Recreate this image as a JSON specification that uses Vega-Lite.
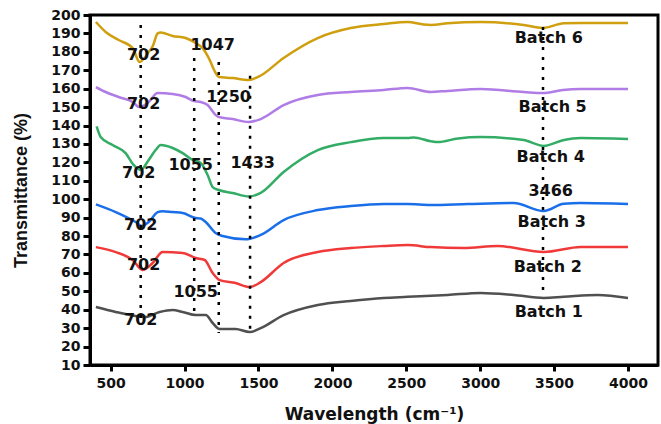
{
  "$schema": "https://vega.github.io/schema/vega-lite/v6.json",
  "autosize": {"type": "none"},
  "padding": {"left": 90, "top": 15, "right": 3, "bottom": 59},
  "width": 568,
  "height": 350,
  "background": "white",
  "view": {"stroke": "black", "strokeWidth": 3},
  "config": {
    "view": {"stroke": "black", "strokeWidth": 3},
    "axis": {
      "grid": false,
      "domainColor": "black",
      "domainWidth": 3,
      "tickColor": "black",
      "tickWidth": 3,
      "labelFont": "DejaVu Sans",
      "labelFontWeight": "bold",
      "labelFontSize": 14,
      "labelColor": "#111",
      "titleColor": "#111",
      "labelOverlap": false
    }
  },
  "datasets": {
    "spectra": [
      {"series": "Batch 6", "x": 400, "y": 196.2}, {"series": "Batch 6", "x": 466, "y": 190.8}, {"series": "Batch 6", "x": 554, "y": 186.4}, {"series": "Batch 6", "x": 649, "y": 182}, {"series": "Batch 6", "x": 695, "y": 174.5}, {"series": "Batch 6", "x": 757, "y": 179.9}, {"series": "Batch 6", "x": 784, "y": 183}, {"series": "Batch 6", "x": 818, "y": 190}, {"series": "Batch 6", "x": 838, "y": 190.5}, {"series": "Batch 6", "x": 919, "y": 188.6}, {"series": "Batch 6", "x": 1007, "y": 187.5}, {"series": "Batch 6", "x": 1075, "y": 184.8}, {"series": "Batch 6", "x": 1122, "y": 182}, {"series": "Batch 6", "x": 1163, "y": 176.7}, {"series": "Batch 6", "x": 1210, "y": 168.5}, {"series": "Batch 6", "x": 1231, "y": 166.3}, {"series": "Batch 6", "x": 1325, "y": 165.8}, {"series": "Batch 6", "x": 1434, "y": 164.7}, {"series": "Batch 6", "x": 1501, "y": 166.5}, {"series": "Batch 6", "x": 1670, "y": 176.7}, {"series": "Batch 6", "x": 1901, "y": 187.5}, {"series": "Batch 6", "x": 2124, "y": 192.9}, {"series": "Batch 6", "x": 2347, "y": 195.1}, {"series": "Batch 6", "x": 2509, "y": 196.2}, {"series": "Batch 6", "x": 2618, "y": 194.8}, {"series": "Batch 6", "x": 2665, "y": 194.6}, {"series": "Batch 6", "x": 2780, "y": 195.5}, {"series": "Batch 6", "x": 3003, "y": 196.2}, {"series": "Batch 6", "x": 3294, "y": 194.6}, {"series": "Batch 6", "x": 3423, "y": 193}, {"series": "Batch 6", "x": 3565, "y": 195.5}, {"series": "Batch 6", "x": 3680, "y": 195.7}, {"series": "Batch 6", "x": 4000, "y": 195.7},
      {"series": "Batch 5", "x": 400, "y": 160.9}, {"series": "Batch 5", "x": 466, "y": 158.2}, {"series": "Batch 5", "x": 554, "y": 155.5}, {"series": "Batch 5", "x": 649, "y": 152.8}, {"series": "Batch 5", "x": 695, "y": 150}, {"series": "Batch 5", "x": 757, "y": 152.8}, {"series": "Batch 5", "x": 818, "y": 157.6}, {"series": "Batch 5", "x": 919, "y": 157.1}, {"series": "Batch 5", "x": 1007, "y": 155.5}, {"series": "Batch 5", "x": 1062, "y": 153.3}, {"series": "Batch 5", "x": 1109, "y": 152.8}, {"series": "Batch 5", "x": 1156, "y": 151.1}, {"series": "Batch 5", "x": 1210, "y": 145.7}, {"series": "Batch 5", "x": 1231, "y": 144.6}, {"series": "Batch 5", "x": 1325, "y": 143.5}, {"series": "Batch 5", "x": 1434, "y": 141.9}, {"series": "Batch 5", "x": 1515, "y": 143.5}, {"series": "Batch 5", "x": 1670, "y": 151.1}, {"series": "Batch 5", "x": 1901, "y": 156.6}, {"series": "Batch 5", "x": 2124, "y": 158.2}, {"series": "Batch 5", "x": 2347, "y": 159.3}, {"series": "Batch 5", "x": 2509, "y": 160.4}, {"series": "Batch 5", "x": 2665, "y": 158.2}, {"series": "Batch 5", "x": 2780, "y": 158.8}, {"series": "Batch 5", "x": 3003, "y": 159.8}, {"series": "Batch 5", "x": 3294, "y": 158.2}, {"series": "Batch 5", "x": 3423, "y": 157.6}, {"series": "Batch 5", "x": 3560, "y": 159.3}, {"series": "Batch 5", "x": 3680, "y": 159.8}, {"series": "Batch 5", "x": 4000, "y": 159.8},
      {"series": "Batch 4", "x": 405, "y": 139.5}, {"series": "Batch 4", "x": 432, "y": 133.8}, {"series": "Batch 4", "x": 513, "y": 129.4}, {"series": "Batch 4", "x": 601, "y": 125}, {"series": "Batch 4", "x": 655, "y": 118.6}, {"series": "Batch 4", "x": 703, "y": 115.9}, {"series": "Batch 4", "x": 757, "y": 121.3}, {"series": "Batch 4", "x": 804, "y": 126.7}, {"series": "Batch 4", "x": 838, "y": 129.4}, {"series": "Batch 4", "x": 919, "y": 127.8}, {"series": "Batch 4", "x": 987, "y": 125}, {"series": "Batch 4", "x": 1055, "y": 121.3}, {"series": "Batch 4", "x": 1109, "y": 119.7}, {"series": "Batch 4", "x": 1156, "y": 113.1}, {"series": "Batch 4", "x": 1190, "y": 106.6}, {"series": "Batch 4", "x": 1231, "y": 105}, {"series": "Batch 4", "x": 1325, "y": 103.4}, {"series": "Batch 4", "x": 1434, "y": 101.5}, {"series": "Batch 4", "x": 1515, "y": 103.4}, {"series": "Batch 4", "x": 1670, "y": 114.8}, {"series": "Batch 4", "x": 1901, "y": 126.7}, {"series": "Batch 4", "x": 2124, "y": 131}, {"series": "Batch 4", "x": 2347, "y": 133.2}, {"series": "Batch 4", "x": 2509, "y": 133.2}, {"series": "Batch 4", "x": 2550, "y": 133.5}, {"series": "Batch 4", "x": 2665, "y": 131.5}, {"series": "Batch 4", "x": 2713, "y": 131}, {"series": "Batch 4", "x": 2850, "y": 133}, {"series": "Batch 4", "x": 3003, "y": 133.8}, {"series": "Batch 4", "x": 3294, "y": 132.1}, {"series": "Batch 4", "x": 3430, "y": 128.9}, {"series": "Batch 4", "x": 3560, "y": 132}, {"series": "Batch 4", "x": 3680, "y": 133.2}, {"series": "Batch 4", "x": 4000, "y": 132.7},
      {"series": "Batch 3", "x": 400, "y": 97.2}, {"series": "Batch 3", "x": 534, "y": 93}, {"series": "Batch 3", "x": 669, "y": 87.6}, {"series": "Batch 3", "x": 710, "y": 85.5}, {"series": "Batch 3", "x": 757, "y": 87.6}, {"series": "Batch 3", "x": 818, "y": 93}, {"series": "Batch 3", "x": 851, "y": 93.5}, {"series": "Batch 3", "x": 919, "y": 93}, {"series": "Batch 3", "x": 987, "y": 92.5}, {"series": "Batch 3", "x": 1075, "y": 89.8}, {"series": "Batch 3", "x": 1109, "y": 89.5}, {"series": "Batch 3", "x": 1143, "y": 87.6}, {"series": "Batch 3", "x": 1210, "y": 81.6}, {"series": "Batch 3", "x": 1257, "y": 80}, {"series": "Batch 3", "x": 1413, "y": 78.2}, {"series": "Batch 3", "x": 1515, "y": 80.6}, {"series": "Batch 3", "x": 1670, "y": 88.7}, {"series": "Batch 3", "x": 1901, "y": 94.1}, {"series": "Batch 3", "x": 2124, "y": 96.3}, {"series": "Batch 3", "x": 2347, "y": 97.4}, {"series": "Batch 3", "x": 2509, "y": 97.4}, {"series": "Batch 3", "x": 2665, "y": 96.9}, {"series": "Batch 3", "x": 2915, "y": 97.4}, {"series": "Batch 3", "x": 3227, "y": 97.9}, {"series": "Batch 3", "x": 3430, "y": 93.6}, {"series": "Batch 3", "x": 3565, "y": 97.5}, {"series": "Batch 3", "x": 3680, "y": 97.9}, {"series": "Batch 3", "x": 4000, "y": 97.4},
      {"series": "Batch 2", "x": 400, "y": 74}, {"series": "Batch 2", "x": 534, "y": 71.3}, {"series": "Batch 2", "x": 649, "y": 67}, {"series": "Batch 2", "x": 716, "y": 61.6}, {"series": "Batch 2", "x": 784, "y": 65.4}, {"series": "Batch 2", "x": 851, "y": 71.3}, {"series": "Batch 2", "x": 987, "y": 70.8}, {"series": "Batch 2", "x": 1075, "y": 68.1}, {"series": "Batch 2", "x": 1136, "y": 67}, {"series": "Batch 2", "x": 1190, "y": 59.9}, {"series": "Batch 2", "x": 1237, "y": 56.1}, {"series": "Batch 2", "x": 1345, "y": 54.5}, {"series": "Batch 2", "x": 1440, "y": 52.3}, {"series": "Batch 2", "x": 1515, "y": 55}, {"series": "Batch 2", "x": 1670, "y": 65.4}, {"series": "Batch 2", "x": 1901, "y": 71.3}, {"series": "Batch 2", "x": 2124, "y": 73.5}, {"series": "Batch 2", "x": 2347, "y": 74.6}, {"series": "Batch 2", "x": 2509, "y": 75.1}, {"series": "Batch 2", "x": 2665, "y": 74}, {"series": "Batch 2", "x": 2888, "y": 73.5}, {"series": "Batch 2", "x": 3118, "y": 74.6}, {"series": "Batch 2", "x": 3430, "y": 71.3}, {"series": "Batch 2", "x": 3680, "y": 74}, {"series": "Batch 2", "x": 4000, "y": 74},
      {"series": "Batch 1", "x": 400, "y": 41.5}, {"series": "Batch 1", "x": 534, "y": 38.8}, {"series": "Batch 1", "x": 669, "y": 36.6}, {"series": "Batch 1", "x": 730, "y": 36}, {"series": "Batch 1", "x": 831, "y": 38.8}, {"series": "Batch 1", "x": 919, "y": 39.9}, {"series": "Batch 1", "x": 987, "y": 38.8}, {"series": "Batch 1", "x": 1075, "y": 37.1}, {"series": "Batch 1", "x": 1143, "y": 37.1}, {"series": "Batch 1", "x": 1190, "y": 32.8}, {"series": "Batch 1", "x": 1237, "y": 29.5}, {"series": "Batch 1", "x": 1345, "y": 29.5}, {"series": "Batch 1", "x": 1440, "y": 27.9}, {"series": "Batch 1", "x": 1515, "y": 30}, {"series": "Batch 1", "x": 1670, "y": 37.1}, {"series": "Batch 1", "x": 1901, "y": 42.6}, {"series": "Batch 1", "x": 2124, "y": 44.8}, {"series": "Batch 1", "x": 2347, "y": 46.4}, {"series": "Batch 1", "x": 2509, "y": 47}, {"series": "Batch 1", "x": 2780, "y": 48}, {"series": "Batch 1", "x": 3003, "y": 49.1}, {"series": "Batch 1", "x": 3227, "y": 48}, {"series": "Batch 1", "x": 3430, "y": 46.4}, {"series": "Batch 1", "x": 3565, "y": 47}, {"series": "Batch 1", "x": 3795, "y": 48}, {"series": "Batch 1", "x": 4000, "y": 46.4}
    ],
    "markers": [
      {"x": 703, "top": 194.6, "bottom": 35},
      {"x": 1065, "top": 176.7, "bottom": 37},
      {"x": 1231, "top": 174.5, "bottom": 27.4},
      {"x": 1443, "top": 167, "bottom": 27.4},
      {"x": 3425, "top": 193.5, "bottom": 47}
    ],
    "labels": [
      {"x": 723, "y": 178.3, "text": "702"},
      {"x": 723, "y": 151.7, "text": "702"},
      {"x": 690, "y": 114.2, "text": "702"},
      {"x": 703, "y": 86, "text": "702"},
      {"x": 723, "y": 64.3, "text": "702"},
      {"x": 703, "y": 34.4, "text": "702"},
      {"x": 1190, "y": 183.7, "text": "1047"},
      {"x": 1298, "y": 155.5, "text": "1250"},
      {"x": 1041, "y": 118.6, "text": "1055"},
      {"x": 1461, "y": 119.7, "text": "1433"},
      {"x": 1075, "y": 49.6, "text": "1055"},
      {"x": 3477, "y": 104.5, "text": "3466"},
      {"x": 3464, "y": 187.5, "text": "Batch 6"},
      {"x": 3490, "y": 150, "text": "Batch 5"},
      {"x": 3477, "y": 122.9, "text": "Batch 4"},
      {"x": 3484, "y": 87.6, "text": "Batch 3"},
      {"x": 3457, "y": 63.2, "text": "Batch 2"},
      {"x": 3464, "y": 38.8, "text": "Batch 1"}
    ]
  },
  "encoding": {
    "x": {
      "field": "x", "type": "quantitative",
      "scale": {"domain": [360, 4203], "nice": false, "zero": false},
      "axis": {
        "values": [500, 1000, 1500, 2000, 2500, 3000, 3500, 4000],
        "format": "d",
        "tickSize": 6,
        "labelPadding": 5,
        "title": "Wavelength (cm⁻¹)",
        "titleFont": "DejaVu Sans",
        "titleFontWeight": "bold",
        "titleFontSize": 17,
        "titlePadding": 16
      }
    },
    "y": {
      "field": "y", "type": "quantitative",
      "scale": {"domain": [10, 200], "nice": false, "zero": false},
      "axis": {
        "values": [10, 20, 30, 40, 50, 60, 70, 80, 90, 100, 110, 120, 130, 140, 150, 160, 170, 180, 190, 200],
        "tickSize": 7,
        "labelPadding": 3,
        "labelOverlap": false,
        "title": "Transmittance (%)",
        "titleFont": "Liberation Sans",
        "titleFontWeight": "bold",
        "titleFontSize": 18,
        "titlePadding": 20
      }
    }
  },
  "layer": [
    {
      "data": {"name": "spectra"},
      "mark": {"type": "line", "strokeWidth": 2.5, "interpolate": "monotone"},
      "encoding": {
        "color": {
          "field": "series", "type": "nominal",
          "scale": {
            "domain": ["Batch 1", "Batch 2", "Batch 3", "Batch 4", "Batch 5", "Batch 6"],
            "range": ["#505050", "#F03A3A", "#1A6FE8", "#33AD66", "#B07CE6", "#CF9F10"]
          },
          "legend": null
        }
      }
    },
    {
      "data": {"name": "markers"},
      "mark": {"type": "rule", "color": "black", "strokeWidth": 2.5, "strokeDash": [3, 7]},
      "encoding": {
        "y": {"field": "top", "type": "quantitative"},
        "y2": {"field": "bottom"}
      }
    },
    {
      "data": {"name": "labels"},
      "mark": {"type": "text", "font": "DejaVu Sans", "fontWeight": "bold", "fontSize": 16, "color": "#111", "align": "center", "baseline": "middle"},
      "encoding": {
        "text": {"field": "text"}
      }
    }
  ]
}
